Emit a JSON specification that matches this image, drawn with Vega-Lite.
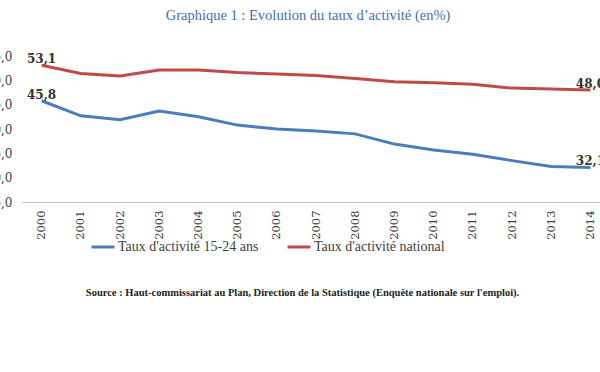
{
  "$schema": "https://vega.github.io/schema/vega-lite/v6.json",
  "width": 588,
  "height": 146,
  "autosize": {"type": "none"},
  "padding": {"left": 22, "top": 56, "right": 0, "bottom": 170},
  "background": "white",
  "config": {
    "view": {"stroke": null},
    "font": "DejaVu Serif",
    "locale": {"number": {"decimal": ",", "thousands": " ", "grouping": [3], "currency": ["", " €"]}}
  },
  "title": {
    "text": "Graphique 1 : Evolution du taux d’activité (en%)",
    "color": "#3f6fb0",
    "fontSize": 14.5,
    "fontWeight": "normal",
    "font": "Liberation Serif",
    "anchor": "middle",
    "frame": "group",
    "offset": 27,
    "dx": -8
  },
  "data": {
    "values": [
      {"annee": 2000, "serie": "Taux d'activité 15-24 ans", "taux": 45.8},
      {"annee": 2001, "serie": "Taux d'activité 15-24 ans", "taux": 42.7},
      {"annee": 2002, "serie": "Taux d'activité 15-24 ans", "taux": 41.9},
      {"annee": 2003, "serie": "Taux d'activité 15-24 ans", "taux": 43.7},
      {"annee": 2004, "serie": "Taux d'activité 15-24 ans", "taux": 42.5},
      {"annee": 2005, "serie": "Taux d'activité 15-24 ans", "taux": 40.8},
      {"annee": 2006, "serie": "Taux d'activité 15-24 ans", "taux": 40.0},
      {"annee": 2007, "serie": "Taux d'activité 15-24 ans", "taux": 39.6},
      {"annee": 2008, "serie": "Taux d'activité 15-24 ans", "taux": 39.0},
      {"annee": 2009, "serie": "Taux d'activité 15-24 ans", "taux": 36.9},
      {"annee": 2010, "serie": "Taux d'activité 15-24 ans", "taux": 35.7},
      {"annee": 2011, "serie": "Taux d'activité 15-24 ans", "taux": 34.8},
      {"annee": 2012, "serie": "Taux d'activité 15-24 ans", "taux": 33.5},
      {"annee": 2013, "serie": "Taux d'activité 15-24 ans", "taux": 32.3},
      {"annee": 2014, "serie": "Taux d'activité 15-24 ans", "taux": 32.1},
      {"annee": 2000, "serie": "Taux d'activité national", "taux": 53.1},
      {"annee": 2001, "serie": "Taux d'activité national", "taux": 51.4},
      {"annee": 2002, "serie": "Taux d'activité national", "taux": 50.9},
      {"annee": 2003, "serie": "Taux d'activité national", "taux": 52.1},
      {"annee": 2004, "serie": "Taux d'activité national", "taux": 52.1},
      {"annee": 2005, "serie": "Taux d'activité national", "taux": 51.6},
      {"annee": 2006, "serie": "Taux d'activité national", "taux": 51.3},
      {"annee": 2007, "serie": "Taux d'activité national", "taux": 51.0},
      {"annee": 2008, "serie": "Taux d'activité national", "taux": 50.4},
      {"annee": 2009, "serie": "Taux d'activité national", "taux": 49.7},
      {"annee": 2010, "serie": "Taux d'activité national", "taux": 49.5},
      {"annee": 2011, "serie": "Taux d'activité national", "taux": 49.2},
      {"annee": 2012, "serie": "Taux d'activité national", "taux": 48.4},
      {"annee": 2013, "serie": "Taux d'activité national", "taux": 48.2},
      {"annee": 2014, "serie": "Taux d'activité national", "taux": 48.0}
    ]
  },
  "encoding": {
    "x": {
      "field": "annee",
      "type": "ordinal",
      "scale": {"type": "point", "padding": 0.5},
      "axis": {
        "labelAngle": -90,
        "labelFont": "DejaVu Serif",
        "labelFontSize": 11.5,
        "labelColor": "#404040",
        "labelPadding": 8,
        "ticks": false,
        "domainColor": "#bfbfbf",
        "domainWidth": 1,
        "grid": false,
        "title": "Source : Haut-commissariat au Plan, Direction de la Statistique (Enquête nationale sur l'emploi).",
        "titleFont": "Liberation Serif",
        "titleFontSize": 10.5,
        "titleFontWeight": "bold",
        "titleColor": "#222222",
        "titlePadding": 48,
        "titleX": 280
      }
    },
    "y": {
      "field": "taux",
      "type": "quantitative",
      "scale": {"domain": [25, 55], "nice": false, "zero": false},
      "axis": {
        "values": [25, 30, 35, 40, 45, 50, 55],
        "format": ".1f",
        "grid": false,
        "domain": false,
        "ticks": false,
        "labelPadding": 10,
        "labelFontSize": 12,
        "labelColor": "#404040",
        "title": null
      }
    },
    "color": {
      "field": "serie",
      "type": "nominal",
      "scale": {
        "domain": ["Taux d'activité 15-24 ans", "Taux d'activité national"],
        "range": ["#4a7ebb", "#be4b48"]
      },
      "legend": {
        "orient": "none",
        "legendX": 68,
        "legendY": 178,
        "direction": "horizontal",
        "title": null,
        "symbolType": "stroke",
        "symbolStrokeWidth": 3,
        "symbolSize": 529,
        "labelFont": "Liberation Serif",
        "labelFontSize": 14,
        "labelColor": "#404040",
        "labelOffset": 2,
        "columnPadding": 22
      }
    }
  },
  "layer": [
    {"mark": {"type": "line", "strokeWidth": 3}},
    {
      "transform": [{"filter": "datum.annee == 2000 || datum.annee == 2014"}],
      "mark": {"type": "text", "baseline": "bottom", "dy": 1, "fontWeight": "bold", "fontSize": 12, "font": "DejaVu Serif"},
      "encoding": {
        "text": {"field": "taux", "type": "quantitative", "format": ".1f"},
        "color": {"value": "#333333"}
      }
    }
  ]
}
